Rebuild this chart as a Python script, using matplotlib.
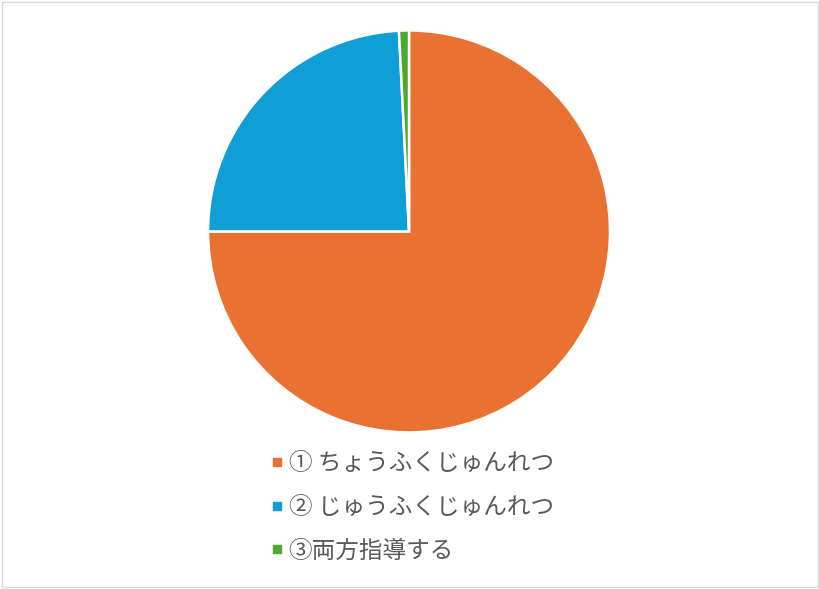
import matplotlib
matplotlib.use("Agg")
import matplotlib.pyplot as plt
from matplotlib.lines import Line2D
from matplotlib.patches import Rectangle

plt.rcParams['font.family'] = ['Noto Sans CJK JP', 'DejaVu Sans']

# data
labels = ['① ちょうふくじゅんれつ', '② じゅうふくじゅんれつ', '③両方指導する']
values = [75.0, 24.2, 0.8]
colors = ['#E97132', '#0F9ED5', '#4EA72E']

fig = plt.figure(figsize=(8.2, 5.89), dpi=100)

# chart frame
fig.patches.append(Rectangle((0.002, 0.003), 0.995, 0.993, transform=fig.transFigure,
                             fill=False, edgecolor='#D9D9D9', linewidth=1.0))

ax = fig.add_axes([0.2537, 0.2658, 0.4902, 0.6825])
ax.pie(values, colors=colors, startangle=90, counterclock=False,
       wedgeprops=dict(edgecolor='white', linewidth=1.8))
ax.set_xlim(-1, 1)
ax.set_ylim(-1, 1)
ax.set_aspect('equal')
ax.axis('off')

handles = [Line2D([], [], linestyle='none', marker='s', markersize=5.5,
                  markerfacecolor=c, markeredgecolor=c) for c in colors]
leg = fig.legend(handles, labels, loc='upper left', bbox_to_anchor=(0.329, 0.232),
                 frameon=False, fontsize=17, labelcolor='#595959',
                 handlelength=0.6, handletextpad=0.2, labelspacing=0.87,
                 borderpad=0, borderaxespad=0)

fig.savefig('out.png', dpi=100)
